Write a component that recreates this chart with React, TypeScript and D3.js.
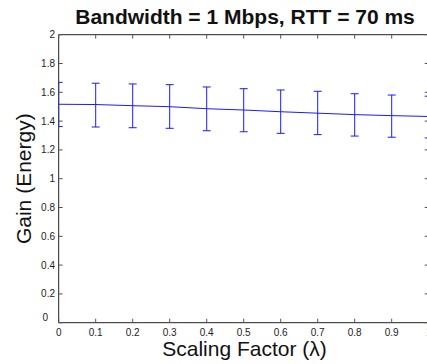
import React from "react";
import * as d3 from "d3";

const xValues = [0, 0.1, 0.2, 0.3, 0.4, 0.5, 0.6, 0.7, 0.8, 0.9, 1.0];
const meanGain = [1.517, 1.515, 1.507, 1.5, 1.486, 1.477, 1.465, 1.455, 1.445, 1.438, 1.432];
const upperGain = [1.669, 1.663, 1.658, 1.653, 1.637, 1.625, 1.616, 1.607, 1.59, 1.581, 1.573];
const lowerGain = [1.362, 1.359, 1.354, 1.35, 1.333, 1.326, 1.315, 1.306, 1.296, 1.288, 1.283];
const xTicks = [0, 0.1, 0.2, 0.3, 0.4, 0.5, 0.6, 0.7, 0.8, 0.9, 1];
const yTicks = [0, 0.2, 0.4, 0.6, 0.8, 1, 1.2, 1.4, 1.6, 1.8, 2];

const W = 427;
const H = 364;
const left = 58.7;
const right = 428.7;
const top = 34.7;
const bottom = 322.7;

export default function App() {
  const x = d3.scaleLinear().domain([0, 1]).range([left, right]);
  const y = d3.scaleLinear().domain([0, 2]).range([bottom, top]);
  const line = d3
    .line<number>()
    .x((_, i) => x(xValues[i]))
    .y((d) => y(d));
  const font = "'Liberation Sans', Arial, Helvetica, sans-serif";
  const tickLen = 4;
  const cap = 4;
  const blue = "#1a1aff";
  const fmt = (v: number) => String(+v.toFixed(1));

  return (
    <svg
      width={W}
      height={H}
      style={{ position: "absolute", left: 0, top: 0, background: "#fff" }}
      fontFamily={font}
    >
      <defs>
        <clipPath id="plotClip">
          <rect x={left} y={top} width={right - left} height={bottom - top} />
        </clipPath>
      </defs>
      <rect x={0} y={0} width={W} height={H} fill="#fff" />

      {/* axes box */}
      <line x1={left} x2={left} y1={top} y2={bottom} stroke="#222" strokeWidth={1} />
      <line x1={left} x2={right} y1={bottom} y2={bottom} stroke="#222" strokeWidth={1} />
      <line x1={left} x2={right} y1={top} y2={top} stroke="#222" strokeWidth={1} />
      <line x1={right} x2={right} y1={top} y2={bottom} stroke="#222" strokeWidth={1} />

      {/* x ticks */}
      {xTicks.map((t) => (
        <g key={"xt" + t}>
          <line x1={x(t)} x2={x(t)} y1={bottom} y2={bottom - tickLen} stroke="#555" />
          <line x1={x(t)} x2={x(t)} y1={top} y2={top + tickLen} stroke="#555" />
          <text x={x(t)} y={336} fontSize={10} textAnchor="middle" fill="#222">
            {fmt(t)}
          </text>
        </g>
      ))}

      {/* y ticks */}
      {yTicks.map((t) => (
        <g key={"yt" + t}>
          <line x1={left} x2={left + tickLen} y1={y(t)} y2={y(t)} stroke="#555" />
          <line x1={right} x2={right - tickLen} y1={y(t)} y2={y(t)} stroke="#555" />
          <text
            x={t === 0 ? 48 : 55}
            y={t === 0 ? y(t) - 2 : y(t) + 3.5}
            fontSize={10}
            textAnchor="end"
            fill="#222"
          >
            {fmt(t)}
          </text>
        </g>
      ))}

      {/* data */}
      <g clipPath="url(#plotClip)">
        <path d={line(meanGain) || ""} fill="none" stroke={blue} strokeWidth={1} />
        {xValues.map((v, i) => (
          <g key={"eb" + i} stroke={blue} strokeWidth={1}>
            <line x1={x(v)} x2={x(v)} y1={y(upperGain[i])} y2={y(lowerGain[i])} />
            <line x1={x(v) - cap} x2={x(v) + cap} y1={y(upperGain[i])} y2={y(upperGain[i])} />
            <line x1={x(v) - cap} x2={x(v) + cap} y1={y(lowerGain[i])} y2={y(lowerGain[i])} />
          </g>
        ))}
      </g>

      {/* title */}
      <text x={245} y={24} fontSize={21} fontWeight="bold" textAnchor="middle" fill="#111">
        Bandwidth = 1 Mbps, RTT = 70 ms
      </text>

      {/* x label */}
      <text x={244.5} y={356} fontSize={21} textAnchor="middle" fill="#111">
        Scaling Factor (λ)
      </text>

      {/* y label */}
      <text
        transform={`translate(31, ${(top + bottom) / 2}) rotate(-90)`}
        fontSize={21}
        textAnchor="middle"
        fill="#111"
      >
        Gain (Energy)
      </text>
    </svg>
  );
}
